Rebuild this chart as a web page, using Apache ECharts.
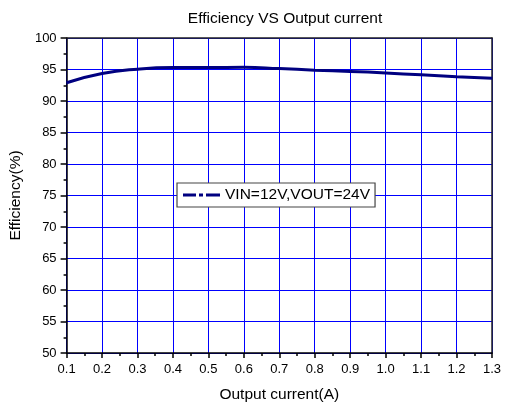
<!DOCTYPE html>
<html>
<head>
<meta charset="utf-8">
<script src="https://cdn.jsdelivr.net/npm/echarts@6/dist/echarts.min.js"></script>
<style>
html,body{margin:0;padding:0;background:#fff;}
#c{width:526px;height:418px;}
</style>
</head>
<body>
<div id="c"></div>
<script>
var current = [0.1, 0.2, 0.3, 0.4, 0.5, 0.6, 0.7, 0.8, 0.9, 1.0, 1.1, 1.2, 1.3];
var efficiency = [92.9, 94.35, 95.05, 95.3, 95.3, 95.35, 95.15, 94.9, 94.7, 94.45, 94.15, 93.85, 93.6];
var seriesName = 'VIN=12V,VOUT=24V';
var titleText = 'Efficiency VS Output current';
var xName = 'Output current(A)';
var yName = 'Efficiency(%)';

var data = current.map(function (x, i) { return [x, efficiency[i]]; });
var FONT = 'Liberation Sans, Arial, sans-serif';
var chart = echarts.init(document.getElementById('c'));
var borderAxis = {
  show: true,
  axisLine: { show: true, onZero: false, lineStyle: { color: '#222', width: 1.5 } },
  axisTick: { show: false },
  axisLabel: { show: false },
  splitLine: { show: false }
};
chart.setOption({
  animation: false,
  title: {
    text: titleText, left: 280, top: 6, textAlign: 'center',
    textStyle: { fontFamily: FONT, fontSize: 15.5, fontWeight: 'normal', color: '#000' }
  },
  grid: {
    left: 65, right: 34, top: 38, bottom: 65
  },
  legend: {
    left: 177, top: 183,
    orient: 'horizontal',
    data: [{ name: seriesName, icon: 'path://M0,0H13V3H0Z M16,0H20V3H16Z M23,0H37V3H23Z' }],
    borderColor: '#444', borderWidth: 1.2,
    backgroundColor: '#fff',
    padding: [4, 5, 4, 6],
    itemWidth: 37, itemHeight: 3,
    itemGap: 4,
    itemStyle: { color: '#000080' },
    textStyle: { fontFamily: FONT, fontSize: 15.5, color: '#000' }
  },
  xAxis: [{
    type: 'value', min: 0.1, max: 1.3, interval: 0.1,
    name: xName, nameLocation: 'middle', nameGap: 34,
    nameTextStyle: { fontFamily: FONT, fontSize: 15.5, color: '#000' },
    axisLine: { onZero: false, lineStyle: { color: '#000', width: 1.5 } },
    axisTick: { show: true, inside: false, length: 5, lineStyle: { color: '#000', width: 1.5 } },
    minorTick: { show: true, splitNumber: 2, length: 3, lineStyle: { color: '#000', width: 1.5 } },
    axisLabel: {
      fontFamily: FONT, fontSize: 13, color: '#000', margin: 10,
      formatter: function (v) { return v.toFixed(1); }
    },
    splitLine: { show: true, lineStyle: { color: '#0000ff', width: 1 } }
  }, Object.assign({ type: 'value', position: 'top', min: 0.1, max: 1.3 }, borderAxis)],
  yAxis: [{
    type: 'value', min: 50, max: 100, interval: 5,
    name: yName, nameLocation: 'middle', nameGap: 37, nameRotate: 90,
    nameTextStyle: { fontFamily: FONT, fontSize: 15.5, color: '#000' },
    axisLine: { show: true, onZero: false, lineStyle: { color: '#000', width: 1.5 } },
    axisTick: { show: true, inside: false, length: 6, lineStyle: { color: '#000', width: 1.5 } },
    minorTick: { show: true, splitNumber: 2, length: 3, lineStyle: { color: '#000', width: 1.5 } },
    axisLabel: { fontFamily: FONT, fontSize: 13, color: '#000', margin: 10 },
    splitLine: { show: true, lineStyle: { color: '#0000ff', width: 1 } }
  }, Object.assign({ type: 'value', position: 'right', min: 50, max: 100 }, borderAxis)],
  series: [{
    name: seriesName,
    type: 'line',
    data: data,
    smooth: 0.5,
    symbol: 'none',
    lineStyle: { color: '#000080', width: 3 },
    itemStyle: { color: '#000080' },
    z: 5
  }]
});
</script>
</body>
</html>
